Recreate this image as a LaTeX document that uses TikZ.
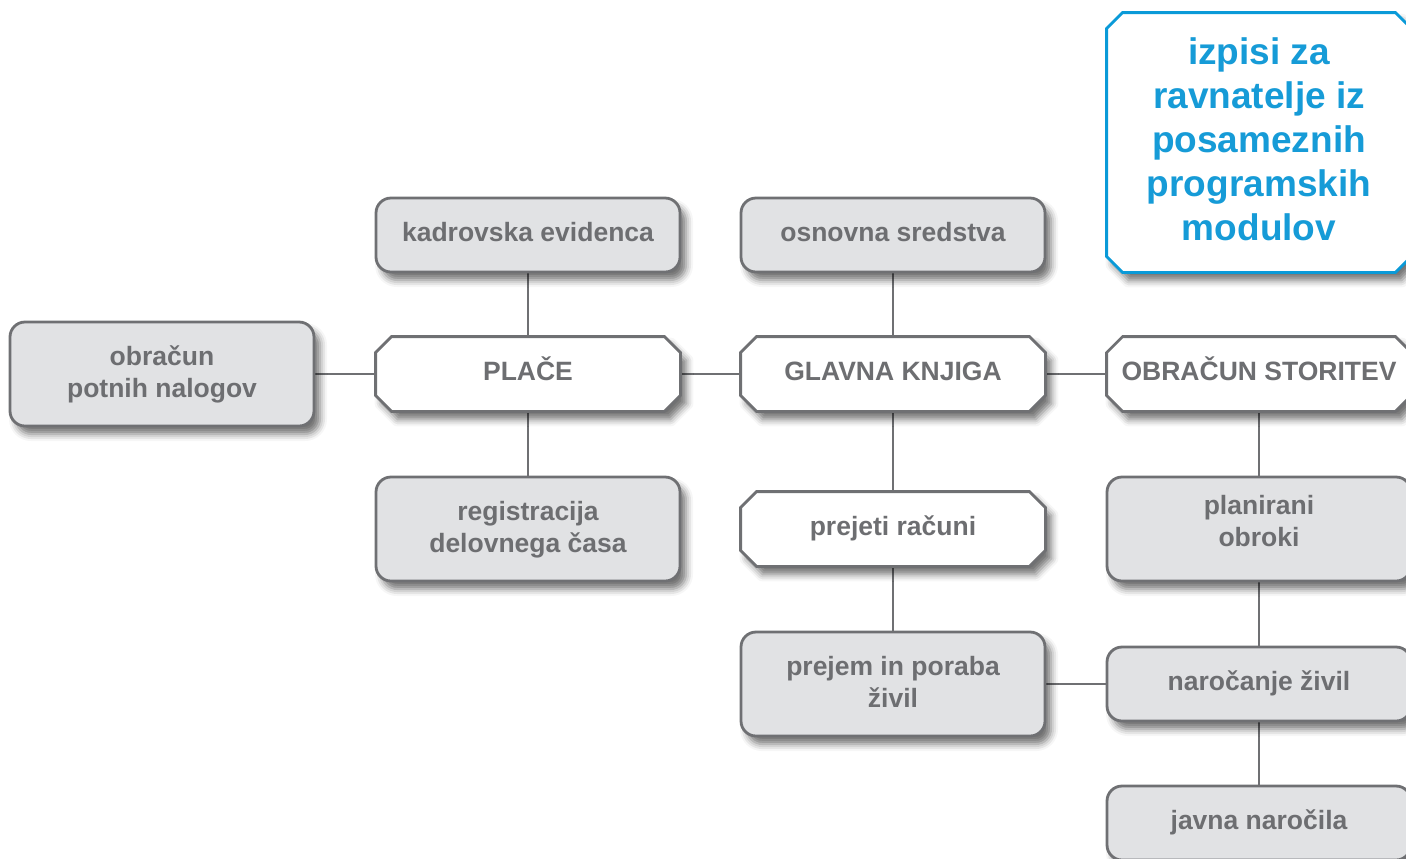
\documentclass[tikz,border=0pt]{standalone}
\usepackage{fontspec}
\setmainfont{Liberation Sans}
\usetikzlibrary{calc,backgrounds,shadows.blur}
\definecolor{boxgray}{HTML}{E1E2E4}
\definecolor{linegray}{HTML}{6F7073}
\definecolor{textgray}{HTML}{6D6E71}
\definecolor{blueline}{HTML}{0A9AD8}
\definecolor{bluetext}{HTML}{169BD7}
\tikzset{
  shad/.style={blur shadow={shadow xshift=3pt, shadow yshift=-4pt, shadow blur radius=3.5pt, shadow opacity=55}},
  base/.style={text=textgray, align=center, rectangle, text height=9.5pt, text depth=3.5pt,
    minimum width=152pt, inner sep=0pt, font=\bfseries\fontsize{13.25}{16}\selectfont},
  twoline/.style={text height=25pt, text depth=2pt},
  gbox/.style={base, shad, draw=linegray, line width=1.4pt, rounded corners=7.5pt, fill=boxgray},
  wbox/.style={base},
  bbox/.style={base, text=bluetext, text height=99pt, text depth=1pt, font=\bfseries\fontsize{18.5}{22}\selectfont},
  chpath/.style={shad, line width=1.4pt, draw=linegray, fill=white},
  conn/.style={draw=linegray, line width=1.25pt}
}
\newcommand\chamfbox[2][linegray]{%
  \path[chpath, draw=#1] ($(#2.north west)+(8pt,0)$) -- ($(#2.north east)+(-8pt,0)$)
    -- ($(#2.north east)+(0,-8pt)$) -- ($(#2.south east)+(0,8pt)$)
    -- ($(#2.south east)+(-8pt,0)$) -- ($(#2.south west)+(8pt,0)$)
    -- ($(#2.south west)+(0,8pt)$) -- ($(#2.north west)+(0,-8pt)$) -- cycle;}
\begin{document}
\begin{tikzpicture}[x=0.5pt,y=-0.5pt]
\useasboundingbox (0,0) rectangle (1406,858);
\clip (0,0) rectangle (1406,858);
\node[gbox, minimum height=37pt] (kadr) at (528,235) {kadrovska evidenca};
\node[gbox, minimum height=37pt] (osn) at (893,235) {osnovna sredstva};
\node[bbox, minimum height=129.5pt] (izp) at (1259,142.5) {izpisi za\\ravnatelje iz\\posameznih\\programskih\\modulov};
\node[gbox, twoline, minimum height=52pt] (obr) at (162,374) {obračun\\potnih nalogov};
\node[wbox, minimum height=37pt] (plac) at (528,374) {PLAČE};
\node[wbox, minimum height=37pt] (gk) at (893,374) {GLAVNA KNJIGA};
\node[wbox, minimum height=37pt] (os) at (1259,374) {OBRAČUN STORITEV};
\node[gbox, twoline, minimum height=52pt] (reg) at (528,529) {registracija\\delovnega časa};
\node[wbox, minimum height=37pt] (prej) at (893,529) {prejeti računi};
\node[gbox, minimum height=52pt, text height=19pt, text depth=2pt] (plan) at (1259,529) {planirani\\obroki};
\node[gbox, twoline, minimum height=52pt] (pore) at (893,684) {prejem in poraba\\živil};
\node[gbox, minimum height=37pt] (nar) at (1259,684) {naročanje živil};
\node[gbox, minimum height=37pt] (jav) at (1259,823) {javna naročila};
\begin{scope}[on background layer]
\path[conn] (kadr.south) -- (plac.north);
\path[conn] (plac.south) -- (reg.north);
\path[conn] (obr.east) -- (plac.west);
\path[conn] (plac.east) -- (gk.west);
\path[conn] (osn.south) -- (gk.north);
\path[conn] (gk.south) -- (prej.north);
\path[conn] (prej.south) -- (pore.north);
\path[conn] (gk.east) -- (os.west);
\path[conn] (os.south) -- (plan.north);
\path[conn] (plan.south) -- (nar.north);
\path[conn] (pore.east) -- (nar.west);
\path[conn] (nar.south) -- (jav.north);
\chamfbox{plac}
\chamfbox{gk}
\chamfbox{os}
\chamfbox{prej}
\chamfbox[blueline]{izp}
\end{scope}
\end{tikzpicture}
\end{document}
